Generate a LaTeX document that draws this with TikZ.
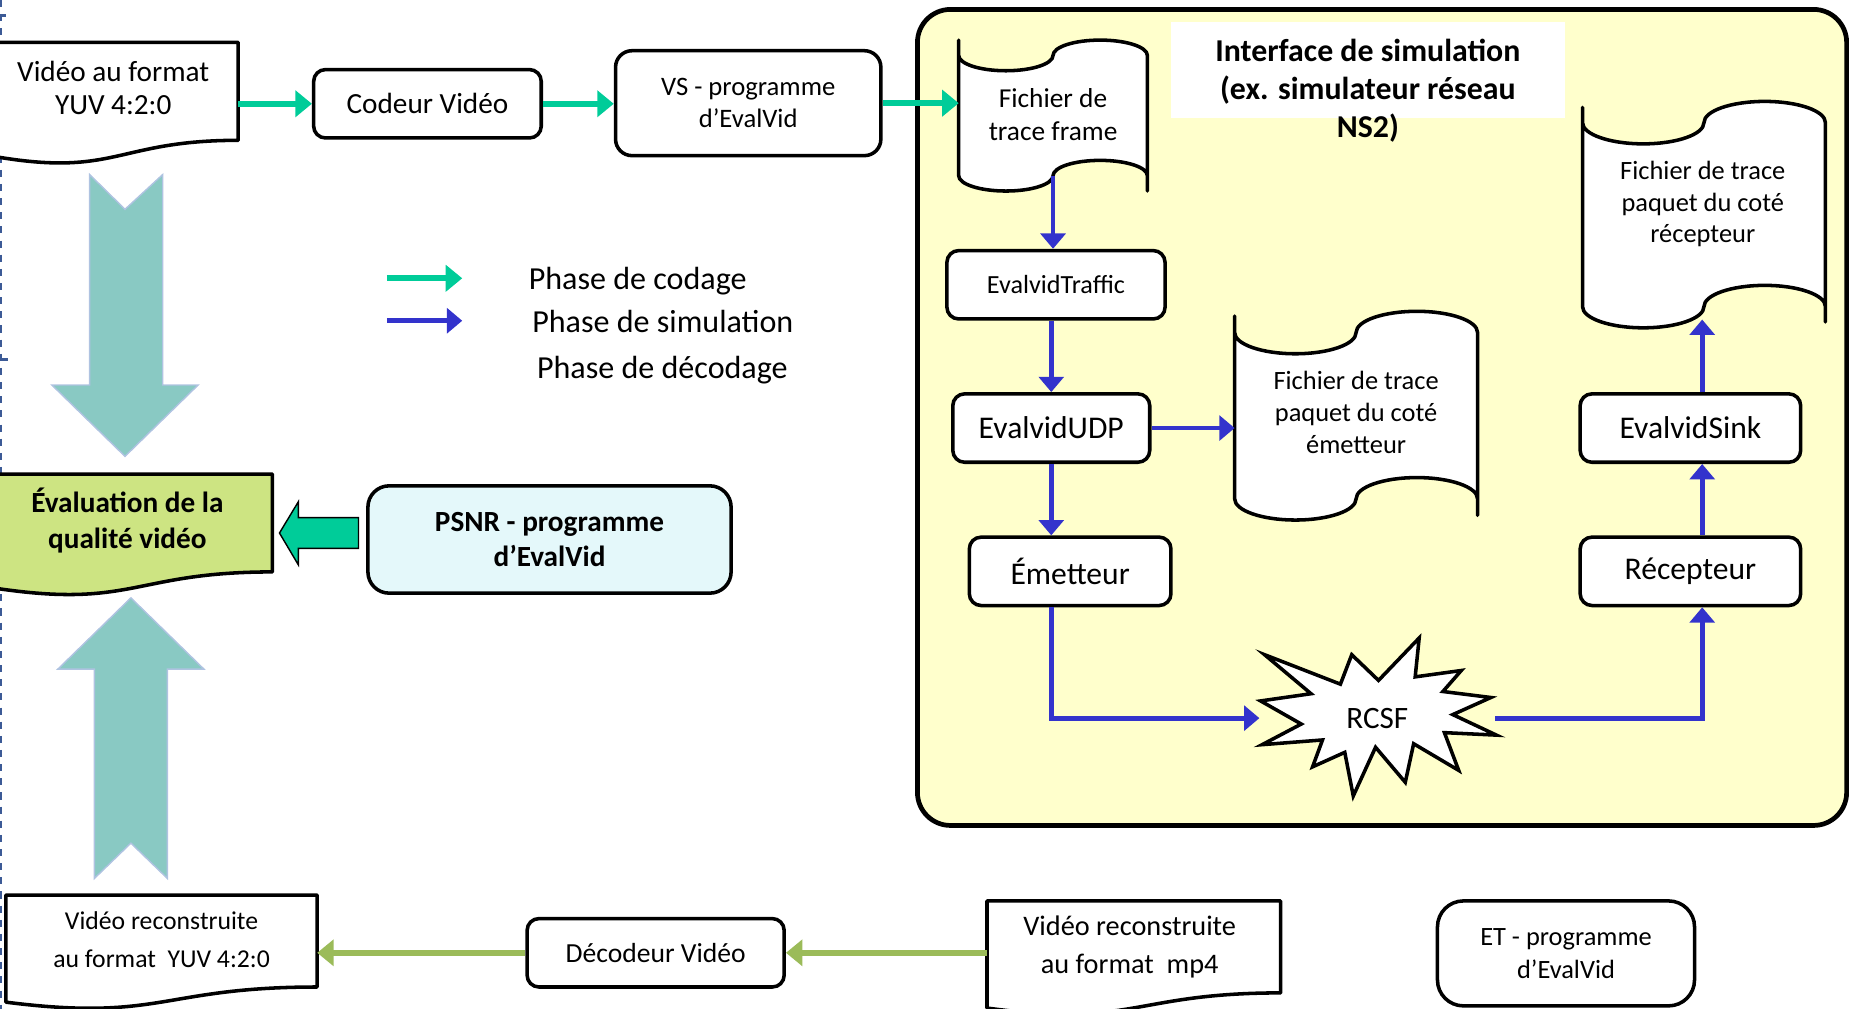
\documentclass[tikz,border=0pt]{standalone}
\usepackage{fontspec}
\setmainfont{Carlito}
\usetikzlibrary{arrows.meta}
\definecolor{cgreen}{RGB}{0,204,153}
\definecolor{cblue}{RGB}{51,51,204}
\definecolor{colive}{RGB}{155,187,89}
\definecolor{cteal}{RGB}{137,201,195}
\definecolor{cedge}{RGB}{175,195,225}
\definecolor{simyellow}{RGB}{255,255,204}
\definecolor{evalgreen}{RGB}{205,228,130}
\definecolor{psnrcyan}{RGB}{228,248,250}
\definecolor{cdash}{RGB}{60,90,150}
\newcommand\fs[2]{\fontsize{#1pt}{#2pt}\selectfont}
% punched tape: x0 x1 ytop ybottom amplitude tick
\newcommand\tapeshape[6]{%
 \pgfmathsetmacro\tq{((#2)-(#1))/4}%
 \pgfmathsetmacro\tk{0.5523*\tq}%
 \pgfmathsetmacro\ka{0.5523*(#5)}%
 \pgfmathsetmacro\xa{#1+\tq}%
 \pgfmathsetmacro\xm{#1+2*\tq}%
 \pgfmathsetmacro\xb{#1+3*\tq}%
 \pgfmathsetmacro\ytd{#3+#5}%
 \pgfmathsetmacro\ytu{#3-#5}%
 \pgfmathsetmacro\ybd{#4+#5}%
 \pgfmathsetmacro\ybu{#4-#5}%
 \draw[docline] (#1,#3-#6) -- (#1,#3)
   .. controls (#1,#3+\ka) and (\xa-\tk,\ytd) .. (\xa,\ytd)
   .. controls (\xa+\tk,\ytd) and (\xm,#3+\ka) .. (\xm,#3)
   .. controls (\xm,#3-\ka) and (\xb-\tk,\ytu) .. (\xb,\ytu)
   .. controls (\xb+\tk,\ytu) and (#2,#3-\ka) .. (#2,#3)
   -- (#2,#4+#6) -- (#2,#4)
   .. controls (#2,#4-\ka) and (\xb+\tk,\ybu) .. (\xb,\ybu)
   .. controls (\xb-\tk,\ybu) and (\xm,#4-\ka) .. (\xm,#4)
   .. controls (\xm,#4+\ka) and (\xa+\tk,\ybd) .. (\xa,\ybd)
   .. controls (\xa-\tk,\ybd) and (#1,#4+\ka) .. (#1,#4)
   -- cycle;}
% document: x0 x1 ytop yright fill
\newcommand\docshape[5]{%
 \pgfmathsetmacro\dh{((#4)-(#3))/0.802}%
 \pgfmathsetmacro\dyl{#3+0.934*\dh}%
 \pgfmathsetmacro\dyc{#3+1.1075*\dh}%
 \pgfmathsetmacro\dxm{((#1)+(#2))/2}%
 \draw[docline, fill=#5] (#1,#3) -- (#2,#3) -- (#2,#4)
   .. controls (\dxm,#4) and (\dxm,\dyc) .. (#1,\dyl) -- cycle;}
\begin{document}
\begin{tikzpicture}[x=0.5pt,y=-0.5pt,
  rbox/.style={draw, line width=1.5pt, rounded corners=5pt, fill=white, align=center, inner sep=0pt},
  bb/.style={inner sep=0pt, outer sep=0pt},
  txt/.style={align=center, inner sep=0pt},
  docline/.style={draw=black, line width=1.5pt, fill=white, line join=round},
  garrow/.style={draw=cgreen, line width=2.5pt, -{Triangle[length=7pt,width=11pt]}},
  barrow/.style={draw=cblue, line width=2pt, -{Triangle[length=6.5pt,width=10.5pt]}},
  oarrow/.style={draw=colive, line width=2.6pt, -{Triangle[length=7pt,width=11pt]}},
  bigarrow/.style={fill=cteal, draw=cedge, line width=0.6pt},
]
\useasboundingbox (0,0) rectangle (1568,855.6);

% left edge dashed artifact
\draw[cdash, line width=0.8pt, dash pattern=on 3pt off 3pt] (1,0) -- (1,856);
\draw[cdash, line width=1.2pt] (0,13) -- (5,13);
\draw[cdash, line width=1.2pt] (0,305) -- (7,305);

% simulation frame
\draw[line width=2pt, fill=simyellow, rounded corners=14pt] (778,8) rectangle (1566,700);
\fill[white] (993,19) rectangle (1327,100);
\node[txt, font=\bfseries\fs{13.5}{16}] (title) at (1160,77) {Interface de simulation\\(ex. simulateur réseau\\NS2)};

% big teal arrows
\draw[bigarrow] (76,148) -- (106,177.5) -- (138,148) -- (138,326.5) -- (168,326.5) -- (106,387) -- (44,326.5) -- (76,326.5) -- cycle;
\draw[bigarrow] (111,507) -- (173,567.5) -- (142,567.5) -- (142,745) -- (111,715) -- (80,745) -- (80,567.5) -- (49,567.5) -- cycle;

% document shapes
\docshape{-5}{202}{36}{119}{white}
\node[bb, minimum width=103.5pt, minimum height=48.5pt] (doc1) at (98.5,84.5) {};
\node[txt, font=\fs{12.4}{14}] at (96,75) {Vidéo au format\\YUV 4:2:0};

\docshape{-5}{231}{402}{485}{evalgreen}
\node[bb, minimum width=118pt, minimum height=48.5pt] (eval) at (113,450.5) {};
\node[txt, font=\bfseries\fs{12.4}{15.5}] at (108,441.5) {Évaluation de la\\qualité vidéo};

\docshape{5}{269}{759}{837}{white}
\node[bb, minimum width=132pt, minimum height=45.5pt] (recon) at (137,804.5) {};
\node[txt, font=\fs{10.9}{16}] at (137,797) {Vidéo reconstruite\\au format~ YUV 4:2:0};

\docshape{837}{1086}{764}{842}{white}
\node[bb, minimum width=124.5pt, minimum height=45.5pt] (mp4) at (961.5,809.5) {};
\node[txt, font=\fs{12}{16}] at (958,803) {Vidéo reconstruite\\au format~ mp4};

% punched tapes
\tapeshape{813}{973}{47}{149}{13}{13}
\node[bb, minimum width=80pt, minimum height=51pt] (frame) at (893,98) {};
\node[txt, font=\fs{11.6}{14}] at (893,97) {Fichier de\\trace frame};

\tapeshape{1047}{1253}{282}{423}{18}{14}
\node[bb, minimum width=103pt, minimum height=70.5pt] (sender) at (1150,352.5) {};
\node[txt, font=\fs{11.2}{13.5}] at (1150,350) {Fichier de trace\\paquet du coté\\émetteur};

\tapeshape{1342}{1548}{104}{260}{18}{13}
\node[bb, minimum width=103pt, minimum height=83.5pt] (receiver) at (1445,187.5) {};
\node[txt, font=\fs{11.2}{13.5}] at (1444,173) {Fichier de trace\\paquet du coté\\récepteur};

% starburst
\draw[line width=1.5pt, fill=white, line join=miter]
 (1169,577) -- (1203.5,541) -- (1200.1,574) -- (1239.2,568.6) -- (1223.6,586.4) -- (1264.3,591.5)
 -- (1232,606) -- (1269,623.4) -- (1224.9,621.3) -- (1237,653.3) -- (1198.8,630.7) -- (1191.7,663.4)
 -- (1166.5,633.7) -- (1147.6,675) -- (1140.4,638) -- (1113.1,650.3) -- (1121.5,627.5) -- (1070.3,631.5)
 -- (1103.5,614) -- (1069,594.4) -- (1111.8,588.3) -- (1072.4,555.2) -- (1136.7,580.2) -- (1146.3,555.2) -- cycle;
\node[bb, minimum width=100pt, minimum height=67pt, font=\fs{13.2}{15}] (rcsf) at (1168,609) {RCSF};

% rounded boxes
\node[rbox, minimum width=96.5pt, minimum height=29pt, font=\fs{12.4}{14}] (codeur) at (362.5,88) {Codeur Vidéo};
\node[rbox, rounded corners=7pt, minimum width=112.5pt, minimum height=44.5pt, font=\fs{11.3}{13.5}] (vs) at (634.5,87.5) {VS - programme\\d’EvalVid};
\node[rbox, minimum width=92.5pt, minimum height=29pt, font=\fs{11.1}{13}] (traffic) at (895.5,241.5) {EvalvidTraffic};
\node[rbox, minimum width=83.5pt, minimum height=29pt, font=\fs{13.4}{15}] (udp) at (891.5,363) {EvalvidUDP};
\node[rbox, minimum width=85.5pt, minimum height=29pt, font=\fs{13.4}{15}] (emet) at (907.5,484.5) {Émetteur};
\node[rbox, minimum width=93.5pt, minimum height=29pt, font=\fs{13.4}{15}] (sink) at (1433.5,363) {EvalvidSink};
\node[rbox, minimum width=93.5pt, minimum height=29pt, font=\fs{13.4}{15}] (recep) at (1433.5,484.5) {Récepteur};
\node[rbox, rounded corners=9pt, fill=psnrcyan, minimum width=154pt, minimum height=45.5pt, font=\bfseries\fs{12.4}{14.5}] (psnr) at (466,457.5) {PSNR - programme\\d’EvalVid};
\node[rbox, minimum width=109pt, minimum height=29pt, font=\fs{11.7}{14}] (dec) at (556,808) {Décodeur Vidéo};
\node[rbox, rounded corners=11pt, minimum width=109pt, minimum height=44.5pt, font=\fs{11.2}{14}] (et) at (1328,808.5) {ET - programme\\d’EvalVid};

% PSNR -> evaluation arrow
\draw[fill=cgreen, draw=black, line width=0.6pt] (237,452) -- (253,425.5) -- (253,439) -- (304,439) -- (304,465) -- (253,465) -- (253,479) -- cycle;

% green connectors
\draw[garrow] (doc1.east |- codeur.west) -- (codeur.west);
\draw[garrow] (codeur.east) -- (vs.west |- codeur.east);
\draw[garrow] (vs.east) -- (vs.east -| frame.west);

% blue connectors
\draw[barrow] (frame.south) -- (frame.south |- traffic.north);
\draw[barrow] (udp.north |- traffic.south) -- (udp.north);
\draw[barrow] (udp.east) -- (udp.east -| sender.west);
\draw[barrow] (udp.south) -- (udp.south |- emet.north);
\draw[barrow] ([xshift=35.5pt]emet.south west) |- (rcsf.west);
\draw[barrow] (rcsf.east) -| ([xshift=5pt]recep.south);
\draw[barrow] ([xshift=5pt]recep.north) -- ([xshift=5pt]sink.south);
\draw[barrow] ([xshift=5pt]sink.north) -- ([xshift=5pt]sink.north |- receiver.south);

% olive connectors
\draw[oarrow] (mp4.west |- dec.east) -- (dec.east);
\draw[oarrow] (dec.west) -- (recon.east |- dec.west);

% legend
\coordinate (lg1s) at (328,236);
\coordinate (lg1e) at (392,236);
\coordinate (lg2s) at (328,272);
\coordinate (lg2e) at (392,272);
\draw[garrow] (lg1s) -- (lg1e);
\draw[barrow] (lg2s) -- (lg2e);
\node[anchor=west, inner sep=0pt, font=\fs{13.6}{16}] (leg1) at (448,238) {Phase de codage};
\node[anchor=west, inner sep=0pt, font=\fs{13.6}{16}] (leg2) at (451,273) {Phase de simulation};
\node[anchor=west, inner sep=0pt, font=\fs{13.6}{16}] (leg3) at (455,314) {Phase de décodage};
\end{tikzpicture}
\end{document}
